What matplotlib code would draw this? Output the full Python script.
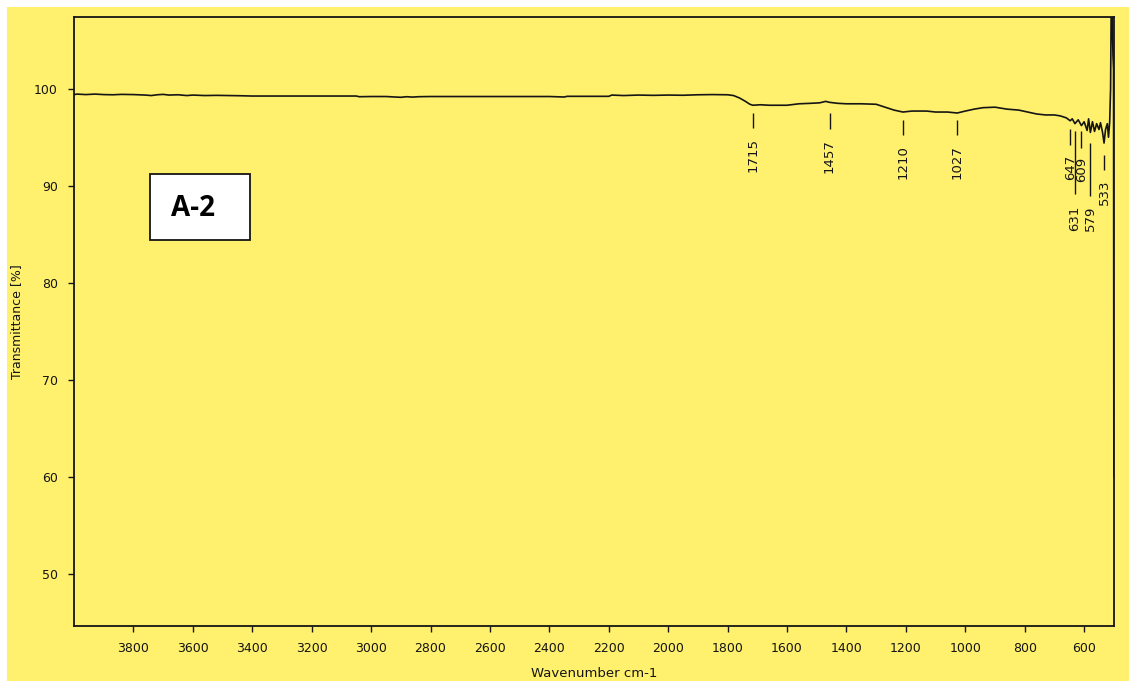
import matplotlib
matplotlib.use("Agg")
import matplotlib.pyplot as plt
from matplotlib.patches import Rectangle

# spectrum (wavenumber cm-1, transmittance %)
wavenumber = [4000, 3990, 3960, 3930, 3900, 3870, 3840, 3800, 3760, 3740,
              3720, 3700, 3680, 3650, 3620, 3600, 3560, 3520, 3480, 3440,
              3400, 3200, 3050, 3040, 3000, 2950, 2920, 2900, 2880, 2860,
              2840, 2800, 2600, 2400, 2350, 2340, 2200, 2190, 2150, 2100,
              2050, 2000, 1950, 1900, 1850, 1800, 1780, 1760, 1740, 1725,
              1715, 1690, 1660, 1600, 1560, 1520, 1490, 1470, 1457, 1430,
              1400, 1350, 1300, 1270, 1240, 1210, 1180, 1130, 1100, 1060,
              1027, 1000, 970, 940, 900, 860, 820, 790, 760, 730,
              700, 680, 660, 647, 640, 631, 620, 609, 600, 590,
              585, 579, 572, 565, 558, 550, 545, 538, 533, 528,
              522, 518, 514, 511, 509, 506, 503, 501, 500, 500]
transmittance = [99.4, 99.45, 99.4, 99.45, 99.4, 99.38, 99.42, 99.4, 99.35, 99.3,
                 99.38, 99.42, 99.35, 99.38, 99.3, 99.35, 99.3, 99.32, 99.3, 99.28,
                 99.25, 99.25, 99.25, 99.18, 99.2, 99.2, 99.15, 99.12, 99.18, 99.14,
                 99.18, 99.2, 99.2, 99.2, 99.15, 99.22, 99.22, 99.35, 99.3, 99.35,
                 99.32, 99.35, 99.33, 99.38, 99.4, 99.38, 99.3, 99.05, 98.7, 98.4,
                 98.3, 98.35, 98.3, 98.3, 98.45, 98.5, 98.55, 98.7, 98.6, 98.5,
                 98.45, 98.45, 98.4, 98.1, 97.8, 97.6, 97.7, 97.7, 97.6, 97.6,
                 97.5, 97.7, 97.9, 98.05, 98.1, 97.9, 97.8, 97.6, 97.4, 97.3,
                 97.3, 97.2, 97.0, 96.7, 96.9, 96.4, 96.8, 96.2, 96.6, 95.7,
                 96.9, 95.5, 96.6, 95.6, 96.4, 95.8, 96.5, 95.5, 94.4, 95.8,
                 96.4, 95.0, 96.6, 100.0, 108.0, 108.0, 103.5, 102.0, 61.0, 60.0]

# peak labels: wavenumber, tick top, tick bottom, text top
peaks = [1715, 1457, 1210, 1027, 647, 631, 609, 579, 533]
tick_top = [97.5, 97.5, 96.8, 96.8, 95.9, 95.6, 95.6, 94.4, 93.2]
tick_bottom = [96.0, 95.9, 95.25, 95.25, 94.2, 89.1, 93.9, 88.9, 91.65]
text_top = [94.9, 94.85, 94.2, 94.2, 93.2, 88.0, 93.0, 88.0, 90.6]

x_ticks = [3800, 3600, 3400, 3200, 3000, 2800, 2600, 2400, 2200, 2000,
           1800, 1600, 1400, 1200, 1000, 800, 600]
y_ticks = [50, 60, 70, 80, 90, 100]

yellow = "#FFF06E"
ink = "#151515"

fig = plt.figure(figsize=(11.29, 6.81), dpi=100, facecolor="white")
fig.patches.append(Rectangle((7 / 1129, 0), 1 - 7 / 1129, 1 - 7 / 681,
                             transform=fig.transFigure, facecolor=yellow,
                             edgecolor="none", zorder=-10))

ax = fig.add_axes([74 / 1129, 55 / 681, 1040 / 1129, 609 / 681])
ax.set_facecolor(yellow)
ax.plot(wavenumber, transmittance, color=ink, linewidth=1.2)

for wn, t0, t1, tt in zip(peaks, tick_top, tick_bottom, text_top):
    ax.vlines(wn, t1, t0, color=ink, linewidth=1.0)
    ax.text(wn, tt, str(wn), rotation=90, ha="center", va="top",
            fontsize=9.5, color=ink)

ax.set_xlim(4000, 499.5)
ax.set_ylim(44.6, 107.4)
ax.set_xticks(x_ticks)
ax.set_yticks(y_ticks)
ax.tick_params(direction="out", length=4.5, width=1.0, colors=ink,
               labelsize=9, pad=7)
for side in ["left", "bottom", "right", "top"]:
    ax.spines[side].set_color(ink)
    ax.spines[side].set_linewidth(1.3)

ax.set_xlabel("Wavenumber cm-1", fontsize=9.5, color=ink, labelpad=9)
ax.set_ylabel("Transmittance [%]", fontsize=9, color=ink, labelpad=8)

# sample label box
ax.add_patch(Rectangle((0.0731, 0.634), 0.0962, 0.108, transform=ax.transAxes,
                       facecolor="white", edgecolor=ink, linewidth=1.3, zorder=5))
ax.text(0.114, 0.685, "A-2", transform=ax.transAxes, ha="center", va="center",
        fontsize=20, fontweight="bold", family=["Open Sans", "DejaVu Sans"],
        color="black", zorder=6)

fig.savefig("out.png", dpi=100, facecolor=fig.get_facecolor())
